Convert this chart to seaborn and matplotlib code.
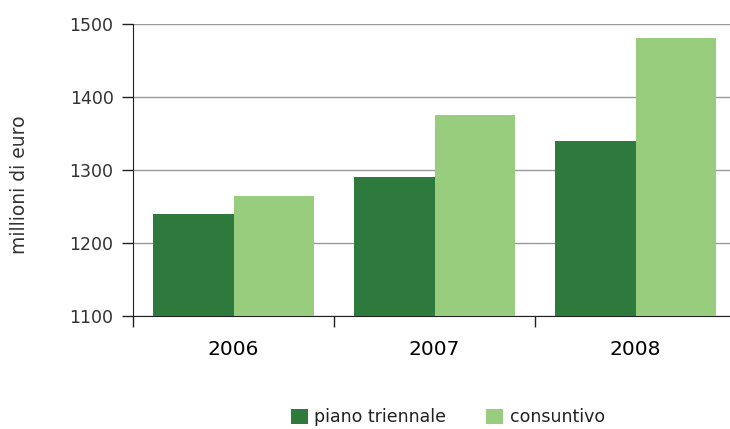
import pandas as pd
import matplotlib.pyplot as plt
import seaborn as sns
from matplotlib.patches import Patch

# Data
anni = ["2006", "2007", "2008"]
piano_triennale = [1240, 1291, 1340]
consuntivo = [1264, 1375, 1481]
serie = ["piano triennale", "consuntivo"]
colori = ["#2e7a3c", "#98cd7e"]

df = pd.DataFrame({
    "anno": anni * 2,
    "valore": piano_triennale + consuntivo,
    "serie": [serie[0]] * 3 + [serie[1]] * 3,
})

sns.set_style("white")
plt.rcParams['font.family'] = ['DejaVu Sans']

fig = plt.figure(figsize=(7.3, 4.29), dpi=100)
ax = fig.add_axes([133 / 730, 1 - 316 / 429, 603 / 730, 292 / 429])

sns.barplot(data=df, x="anno", y="valore", hue="serie", palette=colori,
            width=0.8, saturation=1, ax=ax, legend=False, zorder=3,
            linewidth=0, edgecolor="none")

ax.set_ylim(1100, 1500)
ax.set_xlim(-0.5, 2.5)
ax.set_yticks([1100, 1200, 1300, 1400, 1500])
ax.yaxis.grid(True, color="#999999", linewidth=1, zorder=0)
ax.set_axisbelow(True)

for s in ["top", "right"]:
    ax.spines[s].set_visible(False)
ax.spines["left"].set_color("#222222")
ax.spines["bottom"].set_color("#222222")

ax.tick_params(axis="y", left=True, length=8, width=1, color="#222222",
               labelsize=12.5, labelcolor="#333333", pad=6)
ax.tick_params(axis="x", which="major", bottom=False, labelsize=14.5,
               labelcolor="#000000", pad=14)
ax.set_xticks([-0.5, 0.5, 1.5], minor=True)
ax.tick_params(axis="x", which="minor", bottom=True, length=8, width=1,
               color="#222222")

ax.set_xlabel("")
ax.set_ylabel("millioni di euro", fontsize=13.5, color="#333333")
ax.yaxis.set_label_coords(-0.172, 0.449)

handles = [Patch(facecolor=c, edgecolor="none") for c in colori]
fig.legend(handles, serie, loc="center", bbox_to_anchor=(448 / 730, 1 - 417 / 429),
           ncol=2, frameon=False, fontsize=12.5, handlelength=0.95,
           handleheight=0.95, handletextpad=0.4, columnspacing=2.3,
           labelcolor="#222222")

plt.savefig("out.png", dpi=100)
